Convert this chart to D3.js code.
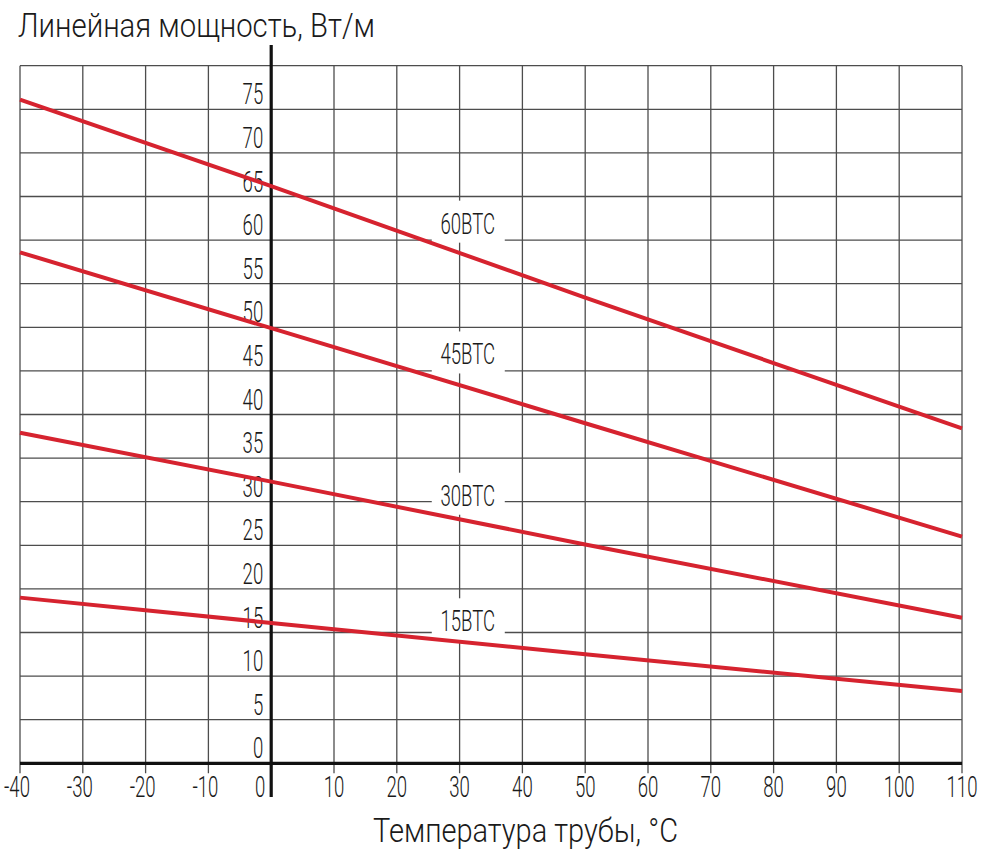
<!DOCTYPE html>
<html>
<head>
<meta charset="utf-8">
<script src="https://cdn.jsdelivr.net/npm/d3@7"></script>
<style>
    body { margin: 0; background: #fff; }
    svg { display: block; }
    text { font-family: Roboto, "Open Sans", sans-serif; font-weight: 300; fill: #1a1a1a; }
</style>
</head>
<body>
<div id="wrapper"></div>
<script>
// pipe temperature, degrees C
const temps = [-40, 0, 50, 110];

// linear power, W/m, one array per cable
const cable60 = [76.1, 66.2, 53.4, 38.4];
const cable45 = [58.6, 49.9, 39.0, 26.0];
const cable30 = [37.9, 32.3, 25.1, 16.7];
const cable15 = [19.0, 16.1, 12.5, 8.3];

const seriesNames = ["60BTC", "45BTC", "30BTC", "15BTC"];
// where each name sits, in data units (temp, power)
const labelTemp = [31.3, 31.3, 31.3, 31.3];
const labelPower = [62.0, 47.0, 30.8, 16.4];

const xTicks = [-40, -30, -20, -10, 0, 10, 20, 30, 40, 50, 60, 70, 80, 90, 100, 110];
const yTicks = [0, 5, 10, 15, 20, 25, 30, 35, 40, 45, 50, 55, 60, 65, 70, 75];
const yGrid = [0, 5, 10, 15, 20, 25, 30, 35, 40, 45, 50, 55, 60, 65, 70, 75, 80];

const yTitle = "Линейная мощность, Вт/м";
const xTitle = "Температура трубы, °C";

function buildPlot() {
    const dimension = {
        width: 991,
        height: 855,
        left: 20,
        right: 962,
        top: 65.7,
        bottom: 763.3
    };

    const series = [cable60, cable45, cable30, cable15].map((vals, i) => ({
        name: seriesNames[i],
        points: vals.map((v, j) => ({ t: temps[j], p: v })),
        lt: labelTemp[i],
        lp: labelPower[i]
    }));

    const svg = d3.select("#wrapper").append("svg")
        .attr("width", dimension.width)
        .attr("height", dimension.height);

    const xScaler = d3.scaleLinear()
        .domain([-40, 110])
        .range([dimension.left, dimension.right]);

    const yScaler = d3.scaleLinear()
        .domain([0, 80])
        .range([dimension.bottom, dimension.top]);

    const condensed = 0.62;

    // grid
    svg.append("g").selectAll("line")
        .data(yGrid)
        .join("line")
        .attr("x1", dimension.left)
        .attr("x2", dimension.right)
        .attr("y1", d => yScaler(d))
        .attr("y2", d => yScaler(d))
        .attr("stroke", "#4d4d4d")
        .attr("stroke-width", 1.3);

    svg.append("g").selectAll("line")
        .data(xTicks.filter(d => d !== 0))
        .join("line")
        .attr("x1", d => xScaler(d))
        .attr("x2", d => xScaler(d))
        .attr("y1", dimension.top)
        .attr("y2", dimension.bottom + 10)
        .attr("stroke", "#4d4d4d")
        .attr("stroke-width", 1.3);

    // white boxes behind the cable names
    svg.append("g").selectAll("rect")
        .data(series)
        .join("rect")
        .attr("x", d => xScaler(d.lt) - 36)
        .attr("y", d => yScaler(d.lp) - 22)
        .attr("width", 73)
        .attr("height", 42)
        .attr("fill", "#fff");

    // axes
    svg.append("line")
        .attr("x1", dimension.left)
        .attr("x2", dimension.right)
        .attr("y1", yScaler(0))
        .attr("y2", yScaler(0))
        .attr("stroke", "#111")
        .attr("stroke-width", 3.2);

    svg.append("line")
        .attr("x1", xScaler(0))
        .attr("x2", xScaler(0))
        .attr("y1", 45)
        .attr("y2", 797)
        .attr("stroke", "#111")
        .attr("stroke-width", 3.2);

    // tick labels
    svg.append("g").selectAll("text")
        .data(yTicks)
        .join("text")
        .attr("transform", d => `translate(${xScaler(0) - 8},${yScaler(d) - 5}) scale(${condensed},1)`)
        .attr("text-anchor", "end")
        .attr("font-size", 30)
        .text(d => d);

    svg.append("g").selectAll("text")
        .data(xTicks)
        .join("text")
        .attr("transform", d => d === 0
            ? `translate(${xScaler(0) - 6},797) scale(${condensed},1)`
            : `translate(${xScaler(d) - (d < 0 ? 3 : 0)},797) scale(${condensed},1)`)
        .attr("text-anchor", d => d === 0 ? "end" : "middle")
        .attr("font-size", 30)
        .text(d => d);

    // lines
    const lineGenerator = d3.line()
        .x(d => xScaler(d.t))
        .y(d => yScaler(d.p));

    svg.append("g").selectAll("path")
        .data(series)
        .join("path")
        .attr("d", d => lineGenerator(d.points))
        .attr("fill", "none")
        .attr("stroke", "#d6232f")
        .attr("stroke-width", 4);

    // cable names
    svg.append("g").selectAll("text")
        .data(series)
        .join("text")
        .attr("transform", d => `translate(${xScaler(d.lt)},${yScaler(d.lp) + 11}) scale(${condensed},1)`)
        .attr("text-anchor", "middle")
        .attr("font-size", 30)
        .text(d => d.name);

    // titles
    svg.append("text")
        .attr("x", 18)
        .attr("y", 36.5)
        .attr("font-size", 33)
        .attr("textLength", 357)
        .attr("lengthAdjust", "spacingAndGlyphs")
        .text(yTitle);

    svg.append("text")
        .attr("x", 525.5)
        .attr("y", 841.5)
        .attr("text-anchor", "middle")
        .attr("font-size", 33)
        .attr("textLength", 305)
        .attr("lengthAdjust", "spacingAndGlyphs")
        .text(xTitle);
}

buildPlot();
</script>
</body>
</html>
